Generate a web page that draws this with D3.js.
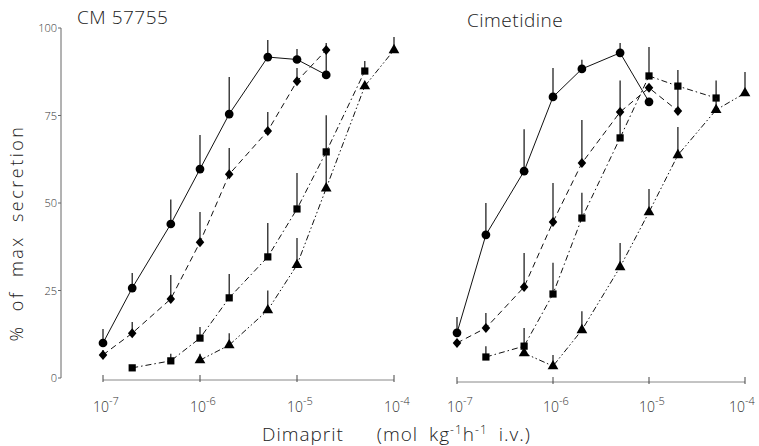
<!DOCTYPE html>
<html>
<head>
<meta charset="utf-8">
<script src="https://cdn.jsdelivr.net/npm/d3@7"></script>
<style>
  body { margin: 0; background: #fff; }
  svg { font-family: "Open Sans", "DejaVu Sans", sans-serif; font-weight: 300; }
</style>
</head>
<body>
<div id="chart"></div>
<script>
// doses (mol kg-1 h-1)
var doses = [1e-7, 2e-7, 5e-7, 1e-6, 2e-6, 5e-6, 1e-5, 2e-5, 5e-5, 1e-4];
var xTicks = [1e-7, 1e-6, 1e-5, 1e-4];
var tickExp = ['-7', '-6', '-5', '-4'];
var yTicks = [0, 25, 50, 75, 100];
var panelTitles = ['CM 57755', 'Cimetidine'];

// CM 57755 panel
var cmCircle      = [10, 25.7, 44, 59.7, 75.4, 91.7, 91, 86.6, null, null];
var cmCircleErr   = [14, 30, 51, 69.4, 86, 96.6, 94, 93.5, null, null];
var cmDiamond     = [6.6, 12.8, 22.6, 38.8, 58.2, 70.6, 84.8, 93.7, null, null];
var cmDiamondErr  = [8, 16, 29.4, 47.4, 65.7, 76, 88.6, 95.7, null, null];
var cmSquare      = [null, 2.9, 4.9, 11.4, 22.9, 34.6, 48.3, 64.6, 87.7, null];
var cmSquareErr   = [null, null, 6.9, 14.6, 29.7, 44.3, 58.6, 75.1, 90.6, null];
var cmTriangle    = [null, null, null, 5.1, 9.4, 19.4, 32.3, 54.2, 83.4, 93.7];
var cmTriangleErr = [null, null, null, 6.9, 12.8, 25, 40, 64.6, null, 97.4];

// Cimetidine panel
var ciCircle      = [12.9, 40.9, 59.1, 80.3, 88.3, 92.9, 78.9, null, null, null];
var ciCircleErr   = [17.4, 50, 71.1, 88.6, 90.9, 95.7, null, null, null, null];
var ciDiamond     = [10, 14.3, 26, 44.6, 61.4, 76, 82.9, 76.3, null, null];
var ciDiamondErr  = [null, 18.6, 35.7, 55.7, 73.7, 85, null, 83.4, null, null];
var ciSquare      = [null, 6, 9.1, 24, 45.7, 68.6, 86.3, 83.4, 80, null];
var ciSquareErr   = [null, 9.1, 14.3, 32.9, 52.9, 76, 94.6, 88, 85, null];
var ciTriangle    = [null, null, 7.1, 3.4, 13.7, 31.7, 47.4, 63.7, 76.6, 81.4];
var ciTriangleErr = [null, null, null, 6.6, 19.1, 38.6, 54, 71.7, 80, 87.4];

var width = 759, height = 446;

var svg = d3.select('#chart').append('svg')
    .attr('width', width)
    .attr('height', height);

var y = d3.scaleLinear().domain([0, 100]).range([378, 28]);

var panels = [
  { x: d3.scaleLog().domain([1e-7, 1e-4]).range([103, 394]), axisY: 380,
    series: [
      { v: cmCircle, e: cmCircleErr, shape: 'circle', dash: null },
      { v: cmDiamond, e: cmDiamondErr, shape: 'diamond', dash: '6,4' },
      { v: cmSquare, e: cmSquareErr, shape: 'square', dash: '6,3,1.5,3' },
      { v: cmTriangle, e: cmTriangleErr, shape: 'triangle', dash: '6,2.5,1.5,2.5,1.5,2.5' }
    ], titleX: 77, titleY: 24 },
  { x: d3.scaleLog().domain([1e-7, 1e-4]).range([457, 745]), axisY: 382,
    series: [
      { v: ciCircle, e: ciCircleErr, shape: 'circle', dash: null },
      { v: ciDiamond, e: ciDiamondErr, shape: 'diamond', dash: '6,4' },
      { v: ciSquare, e: ciSquareErr, shape: 'square', dash: '6,3,1.5,3' },
      { v: ciTriangle, e: ciTriangleErr, shape: 'triangle', dash: '6,2.5,1.5,2.5,1.5,2.5' }
    ], titleX: 467, titleY: 27 }
];

// wider diamond than d3's default
var wideDiamond = {
  draw: function(ctx, size) {
    var h = Math.sqrt(size) * 0.6, w = h * 0.85;
    ctx.moveTo(0, -h); ctx.lineTo(w, 0); ctx.lineTo(0, h); ctx.lineTo(-w, 0); ctx.closePath();
  }
};

var symbols = {
  circle: d3.symbol().type(d3.symbolCircle).size(60),
  diamond: d3.symbol().type(wideDiamond).size(70),
  square: d3.symbol().type(d3.symbolSquare).size(52),
  triangle: d3.symbol().type(d3.symbolTriangle).size(50)
};

// y axis (left panel only)
var yAxis = svg.append('g');
yAxis.append('line')
    .attr('x1', 61).attr('x2', 61)
    .attr('y1', y(100)).attr('y2', y(0))
    .attr('stroke', '#666').attr('stroke-width', 1);
yAxis.selectAll('line.tick')
    .data(yTicks).enter().append('line')
    .attr('class', 'tick')
    .attr('x1', 58).attr('x2', 61)
    .attr('y1', function(d) { return y(d); })
    .attr('y2', function(d) { return y(d); })
    .attr('stroke', '#666');
yAxis.selectAll('text')
    .data(yTicks).enter().append('text')
    .attr('x', 57)
    .attr('y', function(d) { return y(d) + 4; })
    .attr('text-anchor', 'end')
    .attr('font-size', 11)
    .attr('fill', '#333')
    .text(function(d) { return d; });

svg.append('text')
    .attr('transform', 'translate(23,233) rotate(-90)')
    .attr('text-anchor', 'middle')
    .attr('font-size', 18)
    .attr('letter-spacing', 2.5)
    .attr('word-spacing', 6)
    .attr('fill', '#222')
    .text('% of max secretion');

panels.forEach(function(p, i) {
  var g = svg.append('g');

  // x axis line + ticks
  g.append('line')
      .attr('x1', p.x(1e-7)).attr('x2', p.x(1e-4))
      .attr('y1', p.axisY).attr('y2', p.axisY)
      .attr('stroke', '#888').attr('stroke-width', 1);
  g.selectAll('line.tick')
      .data(xTicks).enter().append('line')
      .attr('class', 'tick')
      .attr('x1', function(d) { return p.x(d); })
      .attr('x2', function(d) { return p.x(d); })
      .attr('y1', p.axisY - 5).attr('y2', p.axisY + 2)
      .attr('stroke', '#444');
  var lab = g.selectAll('text.tl')
      .data(xTicks).enter().append('text')
      .attr('class', 'tl')
      .attr('x', function(d) { return Math.min(p.x(d) + 3, 742); })
      .attr('y', 412)
      .attr('text-anchor', 'middle')
      .attr('font-size', 14)
      .attr('fill', '#333');
  lab.append('tspan').text('10');
  lab.append('tspan')
      .attr('dy', -7)
      .attr('font-size', 11)
      .text(function(d, j) { return tickExp[j]; });

  // title
  g.append('text')
      .attr('x', p.titleX).attr('y', p.titleY)
      .attr('font-size', 19)
      .attr('letter-spacing', 0.5)
      .attr('fill', '#222')
      .text(panelTitles[i]);

  p.series.forEach(function(s) {
    var pts = doses.map(function(d, k) { return { d: d, v: s.v[k], e: s.e[k] }; })
        .filter(function(o) { return o.v != null; });

    var line = d3.line()
        .x(function(o) { return p.x(o.d); })
        .y(function(o) { return y(o.v); });

    g.append('path')
        .datum(pts)
        .attr('d', line)
        .attr('fill', 'none')
        .attr('stroke', '#111')
        .attr('stroke-width', 1)
        .attr('stroke-dasharray', s.dash);

    // error bars (upwards)
    g.selectAll(null)
        .data(pts.filter(function(o) { return o.e != null; }))
        .enter().append('line')
        .attr('x1', function(o) { return p.x(o.d); })
        .attr('x2', function(o) { return p.x(o.d); })
        .attr('y1', function(o) { return y(o.v); })
        .attr('y2', function(o) { return y(o.e); })
        .attr('stroke', '#111')
        .attr('stroke-width', 1.2);

    g.selectAll(null)
        .data(pts).enter().append('path')
        .attr('d', symbols[s.shape])
        .attr('transform', function(o) { return 'translate(' + p.x(o.d) + ',' + y(o.v) + ')'; })
        .attr('fill', '#000');
  });
});

// x label
var xl = svg.append('text')
    .attr('x', 262).attr('y', 441)
    .attr('font-size', 19)
    .attr('letter-spacing', 1)
    .attr('word-spacing', 5)
    .attr('fill', '#222');
xl.append('tspan').text('Dimaprit\u00a0\u00a0\u00a0(mol kg');
xl.append('tspan').attr('dy', -7).attr('font-size', 12).text('-1');
xl.append('tspan').attr('dy', 7).text('h');
xl.append('tspan').attr('dy', -7).attr('font-size', 12).text('-1');
xl.append('tspan').attr('dy', 7).text(' i.v.)');
</script>
</body>
</html>
